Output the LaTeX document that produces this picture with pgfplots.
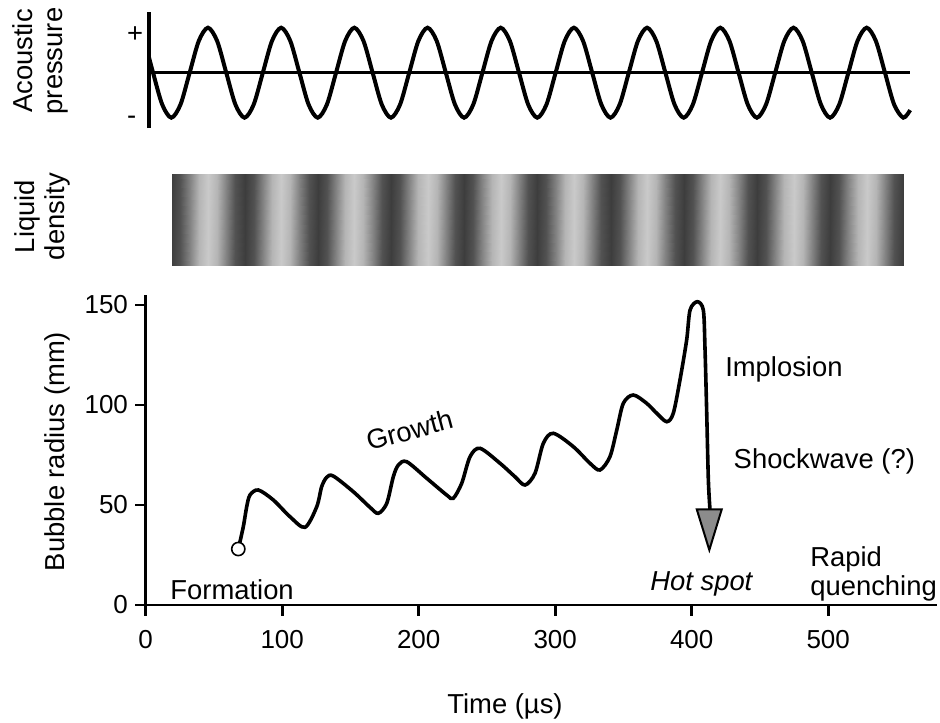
\documentclass[border=0pt]{standalone}
\usepackage{fontspec}
\setmainfont{Liberation Sans}
\usepackage{pgfplots}
\pgfplotsset{compat=1.18}

\pgfplotsset{
    colormap={density}{gray(0cm)=(0.24) gray(1cm)=(0.79)},
}

\begin{document}
\begin{tikzpicture}[font=\fontsize{13.7}{15.2}\selectfont]
    \useasboundingbox (0pt,0pt) rectangle (470pt,-361pt);

    % acoustic pressure (x in eighths of a period)
    \begin{axis}[
            at={(74.5pt,-64pt)}, anchor=south west,
            scale only axis, width=380.56pt, height=58.15pt,
            xmin=-6.443, xmax=76.75, ymin=-1.229, ymax=1.356,
            axis x line=none, axis y line=left,
            axis line style={-, line width=2pt},
            xtick=\empty, ytick=\empty,
            clip=false,
        ]
        \addplot[black, mark=none, line width=1.5pt] coordinates {(-6.443,0) (76.75,0)};
        \addplot[black, mark=none, smooth, line width=2pt] coordinates {
                (-6.443,0.340) (-6,0) (-5,-0.7071) (-4,-1) (-3,-0.7071) (-2,0) (-1,0.7071)
                (0,1) (1,0.7071) (2,0) (3,-0.7071) (4,-1) (5,-0.7071) (6,0) (7,0.7071)
                (8,1) (9,0.7071) (10,0) (11,-0.7071) (12,-1) (13,-0.7071) (14,0) (15,0.7071)
                (16,1) (17,0.7071) (18,0) (19,-0.7071) (20,-1) (21,-0.7071) (22,0) (23,0.7071)
                (24,1) (25,0.7071) (26,0) (27,-0.7071) (28,-1) (29,-0.7071) (30,0) (31,0.7071)
                (32,1) (33,0.7071) (34,0) (35,-0.7071) (36,-1) (37,-0.7071) (38,0) (39,0.7071)
                (40,1) (41,0.7071) (42,0) (43,-0.7071) (44,-1) (45,-0.7071) (46,0) (47,0.7071)
                (48,1) (49,0.7071) (50,0) (51,-0.7071) (52,-1) (53,-0.7071) (54,0) (55,0.7071)
                (56,1) (57,0.7071) (58,0) (59,-0.7071) (60,-1) (61,-0.7071) (62,0) (63,0.7071)
                (64,1) (65,0.7071) (66,0) (67,-0.7071) (68,-1) (69,-0.7071) (70,0) (71,0.7071)
                (72,1) (73,0.7071) (74,0) (75,-0.7071) (76,-1) (76.75,-0.8315)
            };
    \end{axis}

    % liquid density band
    \begin{axis}[
            at={(85.675pt,-132.5pt)}, anchor=south west,
            scale only axis, width=365.98pt, height=45.5pt,
            xmin=-4, xmax=76, ymin=0, ymax=1,
            view={0}{90}, hide axis,
            colormap name=density,
            point meta min=-1, point meta max=1,
        ]
        \addplot3[surf, shader=interp, point meta=z] coordinates {
                (-4,0,-1) (-3,0,-0.7071) (-2,0,0) (-1,0,0.7071)
                (0,0,1) (1,0,0.7071) (2,0,0) (3,0,-0.7071) (4,0,-1) (5,0,-0.7071) (6,0,0) (7,0,0.7071)
                (8,0,1) (9,0,0.7071) (10,0,0) (11,0,-0.7071) (12,0,-1) (13,0,-0.7071) (14,0,0) (15,0,0.7071)
                (16,0,1) (17,0,0.7071) (18,0,0) (19,0,-0.7071) (20,0,-1) (21,0,-0.7071) (22,0,0) (23,0,0.7071)
                (24,0,1) (25,0,0.7071) (26,0,0) (27,0,-0.7071) (28,0,-1) (29,0,-0.7071) (30,0,0) (31,0,0.7071)
                (32,0,1) (33,0,0.7071) (34,0,0) (35,0,-0.7071) (36,0,-1) (37,0,-0.7071) (38,0,0) (39,0,0.7071)
                (40,0,1) (41,0,0.7071) (42,0,0) (43,0,-0.7071) (44,0,-1) (45,0,-0.7071) (46,0,0) (47,0,0.7071)
                (48,0,1) (49,0,0.7071) (50,0,0) (51,0,-0.7071) (52,0,-1) (53,0,-0.7071) (54,0,0) (55,0,0.7071)
                (56,0,1) (57,0,0.7071) (58,0,0) (59,0,-0.7071) (60,0,-1) (61,0,-0.7071) (62,0,0) (63,0,0.7071)
                (64,0,1) (65,0,0.7071) (66,0,0) (67,0,-0.7071) (68,0,-1) (69,0,-0.7071) (70,0,0) (71,0,0.7071)
                (72,0,1) (73,0,0.7071) (74,0,0) (75,0,-0.7071) (76,0,-1)

                (-4,1,-1) (-3,1,-0.7071) (-2,1,0) (-1,1,0.7071)
                (0,1,1) (1,1,0.7071) (2,1,0) (3,1,-0.7071) (4,1,-1) (5,1,-0.7071) (6,1,0) (7,1,0.7071)
                (8,1,1) (9,1,0.7071) (10,1,0) (11,1,-0.7071) (12,1,-1) (13,1,-0.7071) (14,1,0) (15,1,0.7071)
                (16,1,1) (17,1,0.7071) (18,1,0) (19,1,-0.7071) (20,1,-1) (21,1,-0.7071) (22,1,0) (23,1,0.7071)
                (24,1,1) (25,1,0.7071) (26,1,0) (27,1,-0.7071) (28,1,-1) (29,1,-0.7071) (30,1,0) (31,1,0.7071)
                (32,1,1) (33,1,0.7071) (34,1,0) (35,1,-0.7071) (36,1,-1) (37,1,-0.7071) (38,1,0) (39,1,0.7071)
                (40,1,1) (41,1,0.7071) (42,1,0) (43,1,-0.7071) (44,1,-1) (45,1,-0.7071) (46,1,0) (47,1,0.7071)
                (48,1,1) (49,1,0.7071) (50,1,0) (51,1,-0.7071) (52,1,-1) (53,1,-0.7071) (54,1,0) (55,1,0.7071)
                (56,1,1) (57,1,0.7071) (58,1,0) (59,1,-0.7071) (60,1,-1) (61,1,-0.7071) (62,1,0) (63,1,0.7071)
                (64,1,1) (65,1,0.7071) (66,1,0) (67,1,-0.7071) (68,1,-1) (69,1,-0.7071) (70,1,0) (71,1,0.7071)
                (72,1,1) (73,1,0.7071) (74,1,0) (75,1,-0.7071) (76,1,-1)
            };
    \end{axis}

    % bubble radius
    \begin{axis}[
            at={(72.85pt,-302.5pt)}, anchor=south west,
            scale only axis, width=395.85pt, height=155pt,
            xmin=0, xmax=580, ymin=0, ymax=155,
            axis x line=bottom, axis y line=left,
            axis line style={-, line width=1.35pt},
            xtick={0,100,...,500}, ytick={0,50,100,150},
            tick align=outside, major tick length=5.35pt,
            tick style={black, line width=1.35pt},
            tick label style={font=\fontsize{13}{15}\selectfont},
            /pgf/number format/assume math mode=true,
            xticklabel style={yshift=-4pt},
            clip=false,
        ]
        \addplot[black, mark=none, smooth, line width=1.8pt] coordinates {
                (67.84,28.0) (71.5,39.15) (74.0,49.15) (76.4,55.0) (82.5,57.5)
                (93.5,52.5) (105.7,44.15) (116.7,38.85) (125.3,49.15) (128.9,59.15)
                (132.6,63.85) (137.4,64.5) (152.1,56.65) (164.3,48.85) (170.4,45.85)
                (176.6,50.85) (181.4,64.15) (185.1,70.0) (191.2,71.65) (205.9,63.35)
                (220.5,55.0) (225.3,53.35) (231.5,60.85) (237.6,74.15) (244.9,78.35)
                (259.6,70.85) (270.5,64.15) (277.9,60.0) (285.2,65.85) (291.3,80.85)
                (298.6,85.85) (313.3,79.15) (325.5,70.85) (332.8,67.5) (340.1,74.15)
                (345.1,87.5) (349.9,100.85) (357.2,105.0) (367.0,100.85) (374.4,95.85)
                (381.7,91.65) (386.5,95.85) (391.4,112.5) (396.3,132.5) (398.8,147.5)
                (404.1,151.65) (408.5,147.5) (409.7,129.15) (411.0,95.85) (412.2,62.5)
                (413.4,47.5)
            };
        % arrow head
        \addplot[draw=black, fill=black!45, line width=1pt, mark=none] coordinates {
                (403.7,47.85) (422.0,47.85) (412.9,27.5)
            } -- cycle;
        % formation point
        \addplot[only marks, mark=*, mark size=3.3pt,
            mark options={fill=white, draw=black, line width=0.8pt}] coordinates {(67.84,28.0)};

        \node[anchor=base west, inner sep=0pt] at (axis cs:17.8,3) {Formation};
        \node[rotate=15] at (axis cs:193.2,87.5) {Growth};
        \node[anchor=base west, inner sep=0pt] at (axis cs:424.3,114.2) {Implosion};
        \node[anchor=base west, inner sep=0pt] at (axis cs:430.5,68.5) {Shockwave (?)};
        \node[anchor=base west, inner sep=0pt] at (axis cs:369.4,7.5) {\itshape Hot spot};
        \node[anchor=base west, inner sep=0pt] at (axis cs:486.6,19.5) {Rapid};
        \node[anchor=base west, inner sep=0pt] at (axis cs:486.6,5) {quenching};
    \end{axis}

    % panel labels
    \node[rotate=90, align=center] at (20.25pt,-30.5pt) {Acoustic\\pressure};
    \node[rotate=90, align=center] at (21.25pt,-108.3pt) {Liquid\\density};
    \node[rotate=90] at (28.75pt,-225.75pt) {Bubble radius (mm)};
    \node at (252.5pt,-353.25pt) {Time (µs)};
    \node at (67.5pt,-17.35pt) {+};
    \node at (65.85pt,-60.3pt) {-};
\end{tikzpicture}
\end{document}
